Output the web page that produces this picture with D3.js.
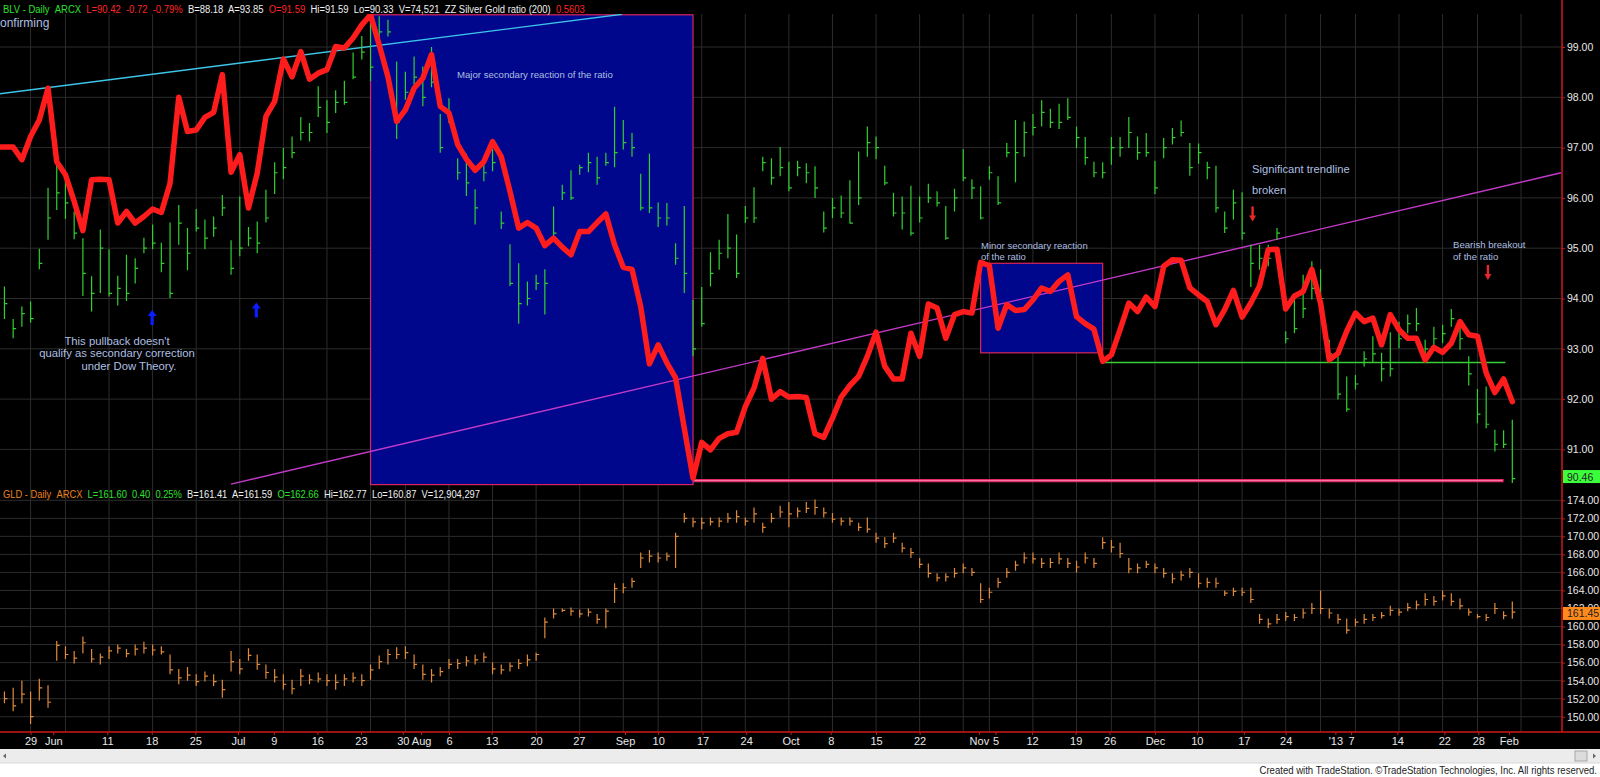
<!DOCTYPE html>
<html><head><meta charset="utf-8">
<script src="https://cdn.jsdelivr.net/npm/d3@7"></script>
<style>html,body{margin:0;padding:0;background:#fff;overflow:hidden}text{white-space:pre}</style>
</head><body><svg id="c" width="1600" height="777"></svg>
<script>
// ---------- DATA ----------
const firstIndex = -3; // trading-day index of the first bar (May 2012); 0 = May 29
const blvHigh = [94.24,93.59,93.84,93.94,94.99,96.2,96.66,96.36,95.73,95.2,94.44,95.37,94.98,
94.45,94.87,94.8,95.21,95.47,95.11,95.51,95.86,95.4,95.78,
95.57,95.63,96.06,95.16,96.03,95.42,95.53,96.16,96.71,96.99,
97.22,97.61,97.49,98.22,97.94,98.14,98.33,98.89,99.22,99.51,
99.61,99.54,98.71,98.51,98.81,98.61,99.0,97.67,97.98,96.79,
96.88,96.17,96.82,96.97,95.73,95.08,94.7,94.34,94.47,94.58,
95.83,96.26,96.55,96.66,96.9,96.82,96.9,97.81,97.55,97.29,
96.48,96.88,95.91,95.9,95.1,95.84,93.97,94.23,94.92,95.17,
95.68,95.27,95.84,96.21,96.82,96.79,97.01,96.72,96.74,96.69,
96.63,95.73,96.0,96.05,96.35,96.92,97.42,97.22,96.64,96.1,
96.03,96.24,96.03,96.28,96.13,95.84,96.18,96.97,96.37,96.23,
96.63,96.43,97.09,97.55,97.52,97.67,97.94,97.77,97.87,97.98,
97.42,97.21,96.72,96.71,97.21,97.21,97.61,97.22,97.29,96.74,
97.19,97.39,97.54,97.09,97.08,96.72,96.64,95.73,96.16,96.11,
95.07,95.07,95.07,95.4,93.35,93.98,94.47,94.74,94.58,93.18,
92.85,92.45,92.48,92.95,93.25,92.92,93.33,93.54,93.68,93.81,
93.18,93.44,93.48,93.79,93.44,92.85,92.2,92.25,91.39,91.38,91.59];
const blvLow = [93.59,93.21,93.44,93.52,94.58,95.17,95.76,95.58,95.18,94.05,93.74,94.11,94.04,
93.86,93.95,94.3,94.9,94.98,94.52,94.01,95.07,94.56,95.33,
94.98,95.23,95.64,94.47,94.84,95.04,94.9,95.51,96.08,96.37,
96.79,97.14,97.12,97.61,97.29,97.69,97.85,98.36,98.75,98.32,
99.14,99.21,97.17,97.95,98.25,97.82,98.2,96.9,97.49,96.36,
96.04,95.47,96.33,96.53,95.38,94.25,93.5,93.86,94.17,93.68,
95.13,95.96,95.96,96.46,96.51,96.26,96.64,96.61,96.96,96.82,
95.75,95.7,95.42,95.45,94.67,94.11,92.85,93.44,94.24,94.57,
94.8,94.41,95.5,95.5,96.53,96.26,96.43,96.13,96.43,96.29,
96.0,95.31,95.6,95.6,95.49,95.86,96.82,96.77,96.25,95.63,
95.37,95.25,95.51,95.9,95.83,95.17,95.73,96.33,95.98,95.57,
96.36,95.86,96.81,96.31,96.82,97.24,97.42,97.39,97.37,97.55,
96.99,96.66,96.41,96.39,96.66,96.82,96.99,96.76,96.82,96.08,
96.79,97.06,97.22,96.44,96.68,96.37,95.71,95.3,95.57,95.17,
94.23,94.57,94.64,95.17,93.11,93.31,93.61,93.98,93.84,92.78,
91.99,91.75,92.19,92.65,92.72,92.35,92.45,93.01,93.31,93.35,
92.85,93.05,93.11,93.44,92.98,92.27,91.52,91.42,90.96,91.03,90.33];
const blvClose = [93.9,93.4,93.7,93.6,94.7,95.6,96.1,95.9,95.3,94.5,94.1,95.0,94.1,
94.2,94.1,94.6,95.0,95.1,94.7,94.1,95.5,94.9,95.4,
95.2,95.4,95.8,94.6,95.0,95.2,95.1,95.6,96.5,96.6,
96.9,97.3,97.3,97.8,97.5,97.9,97.9,98.4,98.9,98.6,
99.3,99.3,97.5,98.1,98.4,98.0,98.3,97.0,97.6,96.5,
96.3,95.8,96.5,96.7,95.5,94.3,93.9,94.0,94.3,94.3,
95.3,96.1,96.0,96.6,96.7,96.4,96.7,96.9,97.1,97.0,
95.8,95.8,95.6,95.6,94.8,94.5,93.0,93.5,94.5,94.9,
95.0,94.5,95.6,95.6,96.7,96.4,96.6,96.2,96.6,96.5,
96.2,95.4,95.8,95.7,95.5,96.0,97.1,97.0,96.3,95.7,
95.7,95.3,95.6,96.0,95.9,95.2,96.0,96.4,96.2,95.6,
96.5,95.9,96.9,96.9,97.3,97.4,97.7,97.5,97.5,97.6,
97.2,96.8,96.5,96.5,97.0,97.0,97.3,96.9,96.9,96.2,
97.0,97.2,97.3,96.6,96.9,96.6,95.8,95.4,95.9,95.3,
94.7,94.8,94.8,95.3,93.2,93.4,93.8,94.2,94.0,92.9,
92.1,91.8,92.3,92.8,92.9,92.6,92.6,93.2,93.5,93.5,
93.0,93.2,93.3,93.6,93.2,92.5,91.7,91.5,91.1,91.1,90.42];

const gldHigh = [152.8,153.2,154.0,152.8,154.2,153.5,158.4,157.8,157.3,158.9,157.5,157.0,157.8,
158.0,157.5,158.0,158.3,158.0,157.8,156.9,155.3,155.5,154.7,
155.0,154.7,154.1,157.3,156.4,157.6,156.9,155.8,155.3,154.7,
154.1,155.3,154.7,154.9,154.7,154.7,154.7,154.9,154.7,155.8,
156.8,157.5,157.7,157.8,156.9,155.8,155.3,155.5,156.4,156.4,
156.7,156.9,157.1,156.0,155.8,156.0,156.4,156.9,157.1,161.0,
162.0,162.0,162.1,161.9,162.0,161.4,162.0,164.8,164.8,165.4,
168.2,168.5,168.2,168.2,170.4,172.6,172.1,172.1,172.1,172.1,
172.6,172.9,172.1,173.2,171.5,172.6,173.4,173.8,173.2,173.8,
174.1,173.2,172.6,172.1,172.1,171.5,172.1,170.4,169.9,170.4,
169.3,168.7,167.6,167.0,165.9,165.9,166.5,167.0,166.5,164.8,
164.3,165.4,166.5,167.3,168.2,168.2,167.6,167.6,168.2,167.6,
167.3,168.2,167.6,169.9,169.6,169.3,167.6,167.0,167.3,167.0,
166.5,165.9,166.2,166.5,165.9,165.4,165.4,164.0,164.3,164.3,
164.3,161.4,160.9,161.4,161.6,161.4,162.0,162.6,164.0,162.0,
161.4,160.9,160.9,161.4,161.4,161.6,162.3,162.0,162.6,162.9,
163.7,163.4,164.0,163.7,163.1,162.0,161.4,161.4,162.6,161.7,162.77];
const gldLow = [151.5,150.6,151.5,149.2,151.8,151.0,156.2,156.4,155.9,157.0,156.0,155.8,156.4,
157.0,156.6,156.8,157.0,156.8,156.9,154.7,153.6,154.0,153.4,
153.9,153.4,152.1,155.0,154.7,156.2,155.2,154.2,153.8,153.0,
152.5,153.4,153.6,153.8,153.4,153.0,153.4,153.8,153.4,154.1,
155.3,155.8,156.4,156.4,155.3,154.1,153.8,154.5,155.3,155.3,
155.6,155.8,156.0,154.7,154.7,155.0,155.3,155.6,156.2,158.7,
160.9,161.6,161.2,161.0,161.1,160.3,159.8,162.6,163.7,164.3,
166.5,167.1,167.1,167.3,166.5,171.5,171.0,170.8,171.2,171.0,
171.5,171.5,171.2,171.5,170.4,171.5,172.1,171.0,172.1,172.6,
172.4,172.1,171.5,171.2,171.2,170.6,170.4,169.3,168.7,169.3,
168.2,167.6,166.5,165.4,165.0,165.0,165.4,165.9,165.6,162.6,
163.1,164.3,165.4,166.2,167.0,167.0,166.5,166.5,166.9,166.5,
166.0,167.0,166.5,168.6,168.2,167.6,165.9,165.9,166.5,165.9,
165.4,164.8,165.1,165.4,164.3,164.3,164.3,163.4,163.4,163.4,
162.6,160.3,159.8,160.3,160.6,160.6,160.9,161.4,161.4,160.9,
160.3,159.2,160.0,160.3,160.6,160.9,161.2,161.2,161.7,161.9,
162.3,162.3,162.9,162.3,161.9,161.2,160.9,160.6,161.4,160.8,160.87];
const gldClose = [152.0,151.2,152.5,150.0,153.2,151.6,157.9,156.9,156.5,158.2,156.4,156.6,157.3,
157.6,157.0,157.5,157.6,157.4,157.2,155.2,154.3,154.6,153.9,
154.5,153.9,153.0,156.1,155.3,156.8,155.8,154.9,154.4,153.6,
153.1,154.5,154.1,154.2,154.0,153.8,154.2,154.3,154.0,155.2,
156.1,156.9,156.9,157.1,155.8,154.7,154.6,155.0,155.8,155.9,
156.2,156.3,156.6,155.3,155.2,155.6,155.9,156.3,156.9,160.5,
161.4,161.8,161.7,161.4,161.6,160.8,161.7,164.2,164.3,165.0,
167.6,167.8,167.6,167.8,170.0,172.0,171.6,171.5,171.6,171.7,
172.0,172.2,171.7,172.5,171.0,172.0,172.7,172.5,172.8,173.1,
173.2,172.6,171.9,171.7,171.7,171.0,170.8,169.8,169.2,169.8,
168.7,168.2,166.9,165.9,165.4,165.5,165.9,166.5,166.0,163.0,
163.8,164.9,166.0,166.8,167.6,167.5,167.0,167.1,167.5,167.0,
166.6,167.6,167.0,169.3,168.8,168.1,166.4,166.5,166.9,166.5,
165.9,165.3,165.7,166.0,164.8,164.9,164.8,163.7,163.9,163.8,
163.0,160.8,160.3,160.8,161.1,161.0,161.5,162.0,162.0,161.5,
160.8,159.6,160.5,160.8,161.0,161.2,161.8,161.6,162.1,162.4,
163.0,162.8,163.4,162.8,162.3,161.6,161.1,161.0,162.0,161.2,161.60];

// ZZ Silver/Gold ratio overlay, expressed on the upper pane's scale
const ratioStart = -4;
const ratioLine = [97.01,97.01,97.01,96.76,97.22,97.55,98.18,96.72,96.46,95.93,95.35,96.36,96.37,96.36,
95.5,95.73,95.5,95.63,95.78,95.71,96.29,98.0,97.32,97.35,97.6,97.7,98.45,96.51,96.86,95.8,96.49,
97.62,97.92,98.76,98.41,98.91,98.36,98.48,98.55,99.01,98.98,99.18,99.44,99.64,99.04,98.41,97.52,
97.75,98.18,98.38,98.85,97.82,97.69,97.06,96.77,96.55,96.72,97.12,96.82,96.13,95.4,95.51,95.4,
95.05,95.2,95.02,94.87,95.33,95.33,95.51,95.68,95.07,94.62,94.58,93.84,92.7,93.08,92.72,92.42,
91.42,90.43,91.14,90.99,91.22,91.31,91.34,91.85,92.22,92.81,92.0,92.15,92.04,92.05,
92.03,91.31,91.24,91.62,92.04,92.27,92.45,92.85,93.33,92.65,92.4,92.4,93.31,92.85,93.89,93.81,
93.21,93.68,93.74,93.71,94.72,94.65,93.41,93.88,93.76,93.78,93.97,94.21,94.14,94.34,94.47,
93.64,93.5,93.39,92.75,92.88,93.38,93.91,93.74,94.03,93.84,94.64,94.77,94.76,94.21,94.07,
93.94,93.48,93.78,94.16,93.63,93.91,94.25,94.97,94.98,93.79,94.05,94.14,94.58,93.91,92.78,
92.91,93.35,93.71,93.54,93.61,93.08,93.68,93.38,93.21,93.21,92.78,93.03,92.93,93.11,93.54,
93.28,93.25,92.52,92.13,92.4,91.95];

const tickIdx = [0,2.6,8.8,13.9,18.9,23.8,27.9,32.9,37.9,42.7,44.8,48,52.9,58,62.9,68.2,72,77.1,82.1,87.2,
91.8,97,102,108.8,110.7,114.9,119.9,123.8,129,133.8,139.2,144,149.7,151.5,156.8,162.2,166.1,169.6];
const tickLabels = ["29","Jun","11","18","25","Jul","9","16","23","30","Aug","6","13","20","27","Sep","10","17","24","Oct",
"8","15","22","Nov","5","12","19","26","Dec","10","17","24","'13","7","14","22","28","Feb"];
const gridIdx = [0,4,9,14,19,24,29,34,39,43,48,53,58,63,68,72,77,82,87,92,97,102,107,110,115,120,124,129,
134,139,144,148,152,157,162,166,171];
const topTicks = [99,98,97,96,95,94,93,92,91];
const botTicks = [174,172,170,168,166,164,162,160,158,156,154,152,150];

// drawing lines (index, value)
const cyanTrend = [[-3.51,98.07],[67.86,99.65]];
const magentaTrend = [[23,90.31],[175.6,96.5]];
const majorBox = {i0:39,i1:76,top:99.64,bottom:90.3};
const minorBox = {i0:109,i1:123,top:94.70,bottom:92.92};
const supportLine = {i0:123,i1:169.2,v:92.73};
const lowLine = {i0:76,i1:169,v:90.38};

// ---------- DRAW ----------
(function(){
const svg = d3.select('#c');
const plotRight = 1562;
const x = d3.scaleLinear().domain([-3.51,175.7]).range([0,plotRight]);
const yTop = d3.scaleLinear().domain([99,91]).range([47,449.4]);
const yBot = d3.scaleLinear().domain([174,150]).range([500.3,716.7]);
const FONT = "Arial, 'Liberation Sans', sans-serif";

svg.append('rect').attr('width',1600).attr('height',777).attr('fill','#fff');
svg.append('rect').attr('width',1600).attr('height',749).attr('fill','#000');

const defs = svg.append('defs');
defs.append('clipPath').attr('id','clipTop').append('rect').attr('x',0).attr('y',14).attr('width',plotRight).attr('height',472);
defs.append('clipPath').attr('id','clipBot').append('rect').attr('x',0).attr('y',486).attr('width',plotRight).attr('height',246);

const gTop = svg.append('g').attr('clip-path','url(#clipTop)');
const gBot = svg.append('g').attr('clip-path','url(#clipBot)');
const gridCol = '#2c2c2c';

[[gTop,yTop,topTicks,14,486],[gBot,yBot,botTicks,486,732]].forEach(([g,y,ticks,y0,y1])=>{
  g.selectAll('line.h').data(ticks).join('line').attr('class','h')
    .attr('x1',0).attr('x2',plotRight).attr('y1',d=>y(d)).attr('y2',d=>y(d))
    .attr('stroke',gridCol).attr('stroke-width',1);
  g.selectAll('line.v').data(gridIdx).join('line').attr('class','v')
    .attr('x1',d=>x(d)).attr('x2',d=>x(d)).attr('y1',y0).attr('y2',y1)
    .attr('stroke',gridCol).attr('stroke-width',1);
});

[majorBox,minorBox].forEach(b=>{
  gTop.append('rect').attr('x',x(b.i0)).attr('y',yTop(b.top))
    .attr('width',x(b.i1)-x(b.i0)).attr('height',yTop(b.bottom)-yTop(b.top))
    .attr('fill','#00078c').attr('stroke','#d8265e').attr('stroke-width',1.2);
});

const pl = d3.line().x(d=>x(d[0])).y(d=>yTop(d[1]));
gTop.append('path').attr('d',pl(cyanTrend)).attr('stroke','#3ec6ea').attr('stroke-width',1.4).attr('fill','none');
gTop.append('path').attr('d',pl(magentaTrend)).attr('stroke','#c33ac8').attr('stroke-width',1.4).attr('fill','none');
gTop.append('line').attr('x1',x(supportLine.i0)).attr('x2',x(supportLine.i1))
  .attr('y1',yTop(supportLine.v)).attr('y2',yTop(supportLine.v)).attr('stroke','#36d036').attr('stroke-width',1.5);
gTop.append('line').attr('x1',x(lowLine.i0)).attr('x2',x(lowLine.i1))
  .attr('y1',yTop(lowLine.v)).attr('y2',yTop(lowLine.v)).attr('stroke','#e02a6a').attr('stroke-width',3.2);
gTop.append('line').attr('x1',x(lowLine.i0)+1).attr('x2',x(lowLine.i1)-1)
  .attr('y1',yTop(lowLine.v)).attr('y2',yTop(lowLine.v)).attr('stroke','#ff8fb0').attr('stroke-width',0.8);

function barPath(y){
  return d=>`M${x(d.i)},${y(d.h)}V${y(d.l)}M${x(d.i)},${y(d.c)}H${x(d.i)+3}`;
}
const blv = blvHigh.map((h,k)=>({i:firstIndex+k,h,l:blvLow[k],c:blvClose[k]}));
const gld = gldHigh.map((h,k)=>({i:firstIndex+k,h,l:gldLow[k],c:gldClose[k]}));
gTop.selectAll('path.bar').data(blv).join('path').attr('class','bar')
  .attr('d',barPath(yTop)).attr('stroke','#30d030').attr('stroke-width',1.2).attr('fill','none');
gBot.selectAll('path.bar').data(gld).join('path').attr('class','bar')
  .attr('d',barPath(yBot)).attr('stroke','#e08a3a').attr('stroke-width',1.2).attr('fill','none');

const ratio = ratioLine.map((v,k)=>[ratioStart+k,v]);
gTop.append('path').attr('d',pl(ratio)).attr('stroke','#ff1c1c').attr('stroke-width',5.5)
  .attr('stroke-linejoin','round').attr('stroke-linecap','round').attr('fill','none');

function upArrow(cx,ty,col){
  svg.append('path').attr('d',`M${cx},${ty}L${cx+4.5},${ty+6}L${cx+1.6},${ty+6}L${cx+1.6},${ty+15}L${cx-1.6},${ty+15}L${cx-1.6},${ty+6}L${cx-4.5},${ty+6}Z`).attr('fill',col);
}
function downArrow(cx,by,col){
  svg.append('path').attr('d',`M${cx},${by}L${cx+3.5},${by-6}L${cx+1.2},${by-6}L${cx+1.2},${by-15}L${cx-1.2},${by-15}L${cx-1.2},${by-6}L${cx-3.5},${by-6}Z`).attr('fill',col);
}
upArrow(x(13.95),yTop(93.77),'#0a1eff');
upArrow(x(25.9),yTop(93.92),'#0a1eff');
downArrow(x(140.2),yTop(95.53),'#e8282a');
downArrow(x(167.2),yTop(94.37),'#e8282a');

const annCol = '#aebfe0';
function ann(t,xx,yy,size,anchor){
  svg.append('text').attr('x',xx).attr('y',yy).attr('fill',annCol).attr('font-family',FONT)
    .attr('font-size',size).attr('text-anchor',anchor||'start').text(t);
}
ann("This pullback doesn't",117,345,11.3,'middle');
ann("qualify as secondary correction",117,356.5,11.3,'middle');
ann("under Dow Theory.",129,370,11.3,'middle');
ann("Major secondary reaction of the ratio",457,78,9.6);
ann("Minor secondary reaction",981,249,9.5);
ann("of the ratio",981,259.5,9.5);
ann("Significant trendline",1252,173,11.2);
ann("broken",1252,193.5,11.2);
ann("Bearish breakout",1453,248,9.6);
ann("of the ratio",1453,260,9.6);
ann("onfirming",0,27,12);

// horizontally condensed text (fit to a target width with a scale transform)
function condensed(px,py,target,anchorEnd,size,parts){
  const g = svg.append('g');
  const t = g.append('text').attr('x',0).attr('y',0).attr('font-family',FONT).attr('font-size',size)
    .attr('text-anchor',anchorEnd?'end':'start');
  parts.forEach(([s,c])=>t.append('tspan').attr('fill',c).text(s));
  const w = t.node().getComputedTextLength();
  const sx = w>0 ? target/w : 1;
  g.attr('transform',`translate(${px},${py}) scale(${sx},1)`);
}
condensed(3,13,582,false,11.5,[["BLV - Daily  ","#2ee02e"],["ARCX  ","#2ee02e"],["L=90.42  -0.72  -0.79%  ","#ff2424"],
  ["B=88.18  A=93.85  ","#f0f0f0"],["O=91.59  ","#ff2424"],["Hi=91.59  Lo=90.33  V=74,521  ZZ Silver Gold ratio (200)  ","#f0f0f0"],
  ["0.5603","#ff2424"]]);
condensed(3,498,477,false,11.5,[["GLD - Daily  ","#e8821e"],["ARCX  ","#e8821e"],["L=161.60  0.40  0.25%  ","#2ee02e"],
  ["B=161.41  A=161.59  ","#f0f0f0"],["O=162.66  ","#2ee02e"],["Hi=162.77  Lo=160.87  V=12,904,297","#f0f0f0"]]);

svg.append('line').attr('x1',plotRight).attr('x2',plotRight).attr('y1',0).attr('y2',732).attr('stroke','#d01818').attr('stroke-width',1.5);
function styleAxis(g){
  g.select('.domain').remove();
  g.selectAll('.tick line').attr('stroke','#d01818');
  g.selectAll('.tick text').attr('fill','#e8e8e8').attr('font-family',FONT).attr('font-size',10.5);
}
svg.append('g').attr('transform',`translate(${plotRight},0)`)
  .call(d3.axisRight(yTop).tickValues(topTicks).tickFormat(d3.format('.2f')).tickSize(3).tickPadding(2)).call(styleAxis);
svg.append('g').attr('transform',`translate(${plotRight},0)`)
  .call(d3.axisRight(yBot).tickValues(botTicks).tickFormat(d3.format('.2f')).tickSize(3).tickPadding(2)).call(styleAxis);

function lastLabel(v,y,fill){
  const yy=y(v);
  svg.append('rect').attr('x',plotRight+1).attr('y',yy-6.5).attr('width',1600-plotRight-1).attr('height',13).attr('fill',fill);
  svg.append('text').attr('x',plotRight+5).attr('y',yy+4).attr('fill','#222').attr('font-family',FONT).attr('font-size',10.5).text(v.toFixed(2));
}
lastLabel(90.46,yTop,'#3cff3c');
lastLabel(161.45,yBot,'#ff8a1c');

svg.append('line').attr('x1',0).attr('x2',1600).attr('y1',732).attr('y2',732).attr('stroke','#d01818').attr('stroke-width',1.5);
const xa = svg.append('g').attr('transform','translate(0,732)')
  .call(d3.axisBottom(x).tickValues(tickIdx).tickFormat((d,k)=>tickLabels[k]).tickSize(3).tickPadding(2));
xa.select('.domain').remove();
xa.selectAll('.tick line').attr('stroke','#d01818');
xa.selectAll('.tick text').attr('fill','#e8e8e8').attr('font-family',FONT).attr('font-size',11);

svg.append('rect').attr('x',0).attr('y',749).attr('width',1600).attr('height',14).attr('fill','#ececec');
svg.append('line').attr('x1',0).attr('x2',1600).attr('y1',763).attr('y2',763).attr('stroke','#d8d8d8');
svg.append('path').attr('d','M3,756L6,753.5L6,758.5Z').attr('fill','#666');
svg.append('rect').attr('x',1575).attr('y',751).attr('width',12).attr('height',10).attr('fill','#dcdcdc').attr('stroke','#a8a8a8');
svg.append('path').attr('d','M1596,756L1593,753.5L1593,758.5Z').attr('fill','#666');
condensed(1597,773.5,338,true,10.5,[['Created with TradeStation. ©TradeStation Technologies, Inc. All rights reserved.','#222']]);
})();
</script></body></html>
